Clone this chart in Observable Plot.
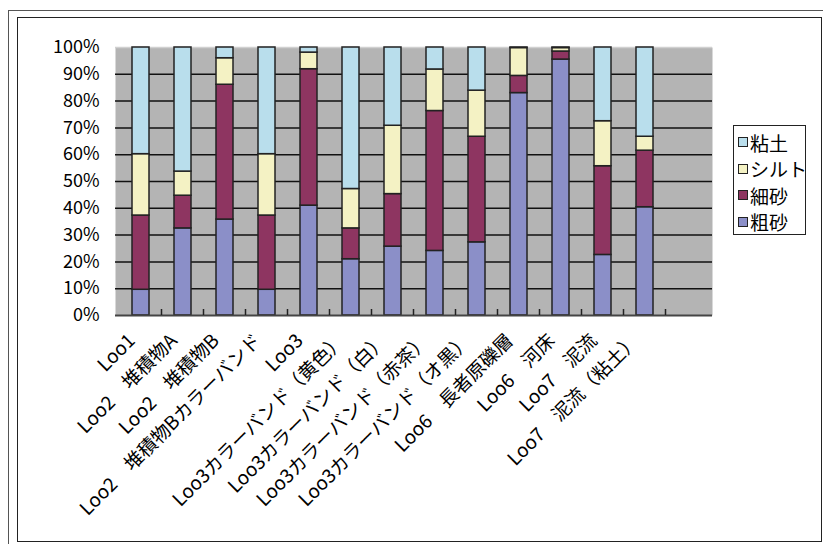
<!DOCTYPE html>
<html>
<head>
<meta charset="utf-8">
<script src="https://cdn.jsdelivr.net/npm/d3@7"></script>
<script src="https://cdn.jsdelivr.net/npm/@observablehq/plot@0.6"></script>
<style>
  html, body { margin: 0; padding: 0; background: #fff; }
  #wrap { position: relative; width: 823px; height: 544px; overflow: hidden; font-family: "Noto Sans CJK JP", sans-serif; }
  #wrap svg { position: absolute; left: 0; top: 0; }
  .outer { position: absolute; left: 8px; top: 10px; width: 830px; height: 560px; border: 1px solid #555; box-sizing: border-box; pointer-events: none; }
  .inner { position: absolute; left: 17px; top: 17px; width: 805px; height: 525px; border: 1.5px solid #222; box-sizing: border-box; pointer-events: none; }
  #legend { position: absolute; left: 733px; top: 125px; width: 73px; height: 110px; border: 1px solid #222; box-sizing: border-box; background: #fff; padding: 3px 0 0 4px; }
  #legend .item { display: flex; align-items: center; height: 26.5px; font-size: 19px; line-height: 1; color: #000; white-space: nowrap; }
  #legend .sw { width: 8px; height: 8px; border: 1px solid #222; margin-right: 2px; flex: none; }
</style>
</head>
<body>
<div id="wrap">
  <div class="outer"></div>
  <div class="inner"></div>
  <div id="legend"></div>
</div>
<script>
// Categories (14th slot is empty in the original chart)
const categories = [
  "Loo1",
  "Loo2　堆積物A",
  "Loo2　堆積物B",
  "Loo2　堆積物Bカラーバンド",
  "Loo3",
  "Loo3カラーバンド（黄色）",
  "Loo3カラーバンド（白）",
  "Loo3カラーバンド（赤茶）",
  "Loo3カラーバンド（オ黒）",
  "Loo6　長者原礫層",
  "Loo6　河床",
  "Loo7　泥流",
  "Loo7　泥流（粘土）",
  ""
];
const seriesNames = ["粗砂", "細砂", "シルト", "粘土"];
const seriesColors = ["#8b8fc8", "#8e3561", "#f4f2c4", "#b9deec"];
const legendOrder = ["粘土", "シルト", "細砂", "粗砂"];

// Percent values per category (first 13 categories)
const coarseSand = [9.6, 32.5, 35.8, 9.6, 41.0, 21.0, 25.7, 24.1, 27.3, 83.0, 95.5, 22.6, 40.4];
const fineSand   = [27.7, 12.2, 50.3, 27.7, 50.9, 11.5, 19.6, 52.2, 39.4, 6.4, 3.0, 33.1, 21.1];
const silt       = [22.9, 9.0, 9.9, 22.9, 6.2, 14.7, 25.5, 15.5, 17.2, 10.4, 1.3, 16.8, 5.2];
const clay       = [39.8, 46.3, 4.0, 39.8, 1.9, 52.8, 29.2, 8.2, 16.1, 0.2, 0.2, 27.5, 33.3];

const yTicks = [0, 10, 20, 30, 40, 50, 60, 70, 80, 90, 100];

const seriesValues = [coarseSand, fineSand, silt, clay];
const data = [];
seriesNames.forEach((s, si) => {
  seriesValues[si].forEach((v, ci) => data.push({cat: categories[ci], type: s, value: v}));
});

// boundary ticks between categories (Excel style)
function boundaryTicks(index, scales, values, dimensions, context) {
  const sx = scales.x, sy = scales.y;
  const bw = typeof sx.bandwidth === "function" ? sx.bandwidth() : 0;
  const st = typeof sx.step === "function" ? sx.step() : bw;
  const g = context.document.createElementNS("http://www.w3.org/2000/svg", "g");
  const y0 = sy(0);
  for (let i = 0; i < categories.length - 1; i++) {
    const xb = sx(categories[i]) + bw + (st - bw) / 2;
    const l = context.document.createElementNS("http://www.w3.org/2000/svg", "line");
    l.setAttribute("x1", xb); l.setAttribute("x2", xb);
    l.setAttribute("y1", y0); l.setAttribute("y2", y0 - 6);
    l.setAttribute("stroke", "#222"); l.setAttribute("stroke-width", "1.5");
    g.appendChild(l);
  }
  return g;
}

const chart = Plot.plot({
  width: 823,
  height: 544,
  marginLeft: 115,
  marginRight: 111,
  marginTop: 47,
  marginBottom: 229,
  style: {fontFamily: "'Noto Sans CJK JP', sans-serif", fontSize: "19px", color: "#000", background: "transparent", overflow: "visible"},
  x: {domain: categories, paddingInner: 0.6, paddingOuter: 0.3, label: null},
  y: {domain: [0, 100], label: null},
  color: {domain: seriesNames, range: seriesColors},
  marks: [
    Plot.frame({fill: "#b4b4b4", stroke: null}),
    Plot.gridY(yTicks.filter(d => d > 0 && d < 100), {stroke: "#111", strokeOpacity: 1, strokeWidth: 1.5}),
    Plot.ruleY([100], {stroke: "#d0d0d0", strokeWidth: 1.5}),
    Plot.barY(data, {x: "cat", y: "value", fill: "type", order: seriesNames, stroke: "#222", strokeWidth: 1.5}),
    Plot.ruleX([0], {frameAnchor: "left", stroke: "#777", strokeWidth: 1.5}),
    Plot.ruleY([0], {stroke: "#444", strokeWidth: 2}),
    boundaryTicks,
    Plot.axisY({ticks: yTicks, tickFormat: d => d + "%", tickSize: 0, tickPadding: 16, fontSize: 18}),
    Plot.axisX({tickSize: 0, tickRotate: -45, tickPadding: 22, dx: -9, fontSize: 19})
  ]
});
document.getElementById("wrap").insertBefore(chart, document.getElementById("wrap").firstChild);

const legend = document.getElementById("legend");
legendOrder.forEach(name => {
  const it = document.createElement("div");
  it.className = "item";
  const sw = document.createElement("span");
  sw.className = "sw";
  sw.style.background = seriesColors[seriesNames.indexOf(name)];
  it.appendChild(sw);
  it.appendChild(document.createTextNode(name));
  legend.appendChild(it);
});
</script>
</body>
</html>
